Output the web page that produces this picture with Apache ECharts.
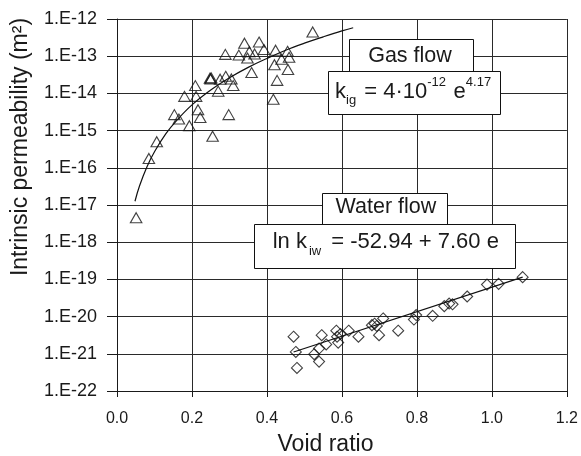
<!DOCTYPE html>
<html><head><meta charset="utf-8">
<script src="https://cdn.jsdelivr.net/npm/echarts@6/dist/echarts.min.js"></script>
<style>html,body{margin:0;padding:0;background:#fff}#c{width:581px;height:456px}</style>
</head><body><div id="c"></div>
<script>
// ---- data ----
const xTickLabels = ['0.0','0.2','0.4','0.6','0.8','1.0','1.2'];
const yTickLabels = ['1.E-12','1.E-13','1.E-14','1.E-15','1.E-16','1.E-17','1.E-18','1.E-19','1.E-20','1.E-21','1.E-22'];

// Gas flow measurements (void ratio, intrinsic permeability m2)
const gasVoid = [0.051,0.085,0.106,0.153,0.165,0.180,0.193,0.209,0.211,0.216,0.222,0.255,0.248,0.250,0.251,0.270,0.275,0.290,0.298,0.305,0.310,0.289,0.325,0.340,0.348,0.353,0.367,0.379,0.392,0.359,0.423,0.420,0.427,0.417,0.439,0.455,0.459,0.456,0.522];
const gasK = [4.57e-18,1.78e-16,5.01e-16,2.69e-15,2.04e-15,8.32e-15,1.35e-15,1.62e-14,8.32e-15,3.63e-15,2.24e-15,7.08e-16,2.57e-14,2.45e-14,2.63e-14,1.15e-14,2.40e-14,2.88e-14,2.69e-15,2.45e-14,1.62e-14,1.12e-13,1.07e-13,2.24e-13,8.91e-14,1.32e-13,1.15e-13,2.40e-13,1.51e-13,3.63e-14,1.45e-13,5.89e-14,2.24e-14,6.92e-15,8.32e-14,1.35e-13,9.33e-14,4.37e-14,4.47e-13];

// Water flow measurements
const waterVoid = [0.471,0.477,0.480,0.526,0.539,0.539,0.546,0.558,0.585,0.587,0.590,0.596,0.618,0.644,0.680,0.687,0.693,0.699,0.710,0.750,0.792,0.798,0.842,0.873,0.886,0.895,0.934,0.987,1.018,1.082];
const waterK = [2.88e-21,1.12e-21,4.17e-22,9.77e-22,6.17e-22,1.38e-21,3.16e-21,1.78e-21,4.17e-21,2.88e-21,2.00e-21,3.39e-21,4.17e-21,2.88e-21,5.89e-21,6.46e-21,5.62e-21,3.16e-21,8.91e-21,4.17e-21,8.32e-21,1.10e-20,1.05e-20,1.91e-20,2.24e-20,2.14e-20,3.47e-20,7.24e-20,7.59e-20,1.15e-19];

// Fitted curves, points
const gasFitVoid = [0.048,0.06,0.08,0.10,0.13,0.16,0.20,0.25,0.30,0.35,0.40,0.45,0.50,0.55,0.60,0.63];
const gasFitK = [1.26e-17,3.24e-17,1.07e-16,2.69e-16,8.13e-16,1.91e-15,4.90e-15,1.23e-14,2.63e-14,5.01e-14,8.71e-14,1.45e-13,2.24e-13,3.31e-13,4.79e-13,5.82e-13];
const waterFitVoid = [0.471,1.082];
const waterFitK = [1.12e-21,1.15e-19];

// ---- chart ----
// ECharts' number rounding cannot handle 1e-22 directly, so the log axis runs in
// units of 1e-22 m2 (axis bottom = 1, top = 1e10); labels show the real values.
const UNIT = 1e-22;
const FONT = '"Liberation Sans", Arial, Helvetica, sans-serif';
const INK = '#1a1a1a';
const pairs = (xs, ys) => xs.map((x, i) => [x, ys[i] / UNIT]);

const chart = echarts.init(document.getElementById('c'), null, {renderer: 'canvas'});
const hollow = {color: 'rgba(0,0,0,0)', borderColor: '#111', borderWidth: 1.1};

chart.setOption({
  animation: false,
  backgroundColor: '#fff',
  grid: {left: 117, right: 11, top: 19, bottom: 65, containLabel: false},
  xAxis: {
    type: 'value', min: 0, max: 1.2, interval: 0.2,
    axisLine: {show: true, onZero: false, lineStyle: {color: INK, width: 1}},
    axisTick: {show: true, length: 6, inside: false, lineStyle: {color: INK, width: 1}},
    axisLabel: {margin: 20, fontSize: 16, fontFamily: FONT, color: INK,
      formatter: v => xTickLabels[Math.round(v / 0.2)]},
    splitLine: {show: true, lineStyle: {color: '#2a2a2a', width: 1}}
  },
  yAxis: {
    type: 'log', logBase: 10, min: 1, max: 1e10, interval: 1,
    axisLine: {show: true, onZero: false, lineStyle: {color: INK, width: 1}},
    axisTick: {show: true, length: 10, inside: false, lineStyle: {color: INK, width: 1}},
    axisLabel: {margin: 20, fontSize: 18, fontFamily: FONT, color: INK,
      formatter: v => yTickLabels[Math.round(10 - Math.log10(v))]},
    splitLine: {show: true, lineStyle: {color: '#2a2a2a', width: 1}}
  },
  series: [
    {type: 'line', data: pairs(gasFitVoid, gasFitK), smooth: 0.4, symbol: 'none', silent: true,
      lineStyle: {color: '#111', width: 1.2}, z: 2},
    {type: 'line', data: pairs(waterFitVoid, waterFitK), symbol: 'none', silent: true,
      lineStyle: {color: '#111', width: 1.2}, z: 2},
    {type: 'scatter', data: pairs(gasVoid, gasK), symbol: 'triangle', symbolSize: [11.5, 10],
      itemStyle: hollow, z: 3},
    {type: 'scatter', data: pairs(waterVoid, waterK), symbol: 'diamond', symbolSize: [11, 11],
      itemStyle: hollow, z: 3}
  ],
  graphic: [
    {type: 'text', x: 20.8, y: 147, rotation: Math.PI / 2,
      style: {text: 'Intrinsic permeability (m²)', font: '23px ' + FONT, fill: INK, align: 'center', verticalAlign: 'middle'}},
    {type: 'text', x: 325.5, y: 445,
      style: {text: 'Void ratio', font: '23px ' + FONT, fill: INK, align: 'center', verticalAlign: 'middle'}},

    {type: 'rect', z: 10, shape: {x: 349.5, y: 39.5, width: 124, height: 32},
      style: {fill: '#fff', stroke: '#111', lineWidth: 1}},
    {type: 'text', z: 11, x: 410, y: 55.9,
      style: {text: 'Gas flow', font: '21.5px ' + FONT, fill: INK, align: 'center', verticalAlign: 'middle'}},
    {type: 'rect', z: 12, shape: {x: 328.5, y: 71.5, width: 172, height: 43},
      style: {fill: '#fff', stroke: '#111', lineWidth: 1}},
    {type: 'text', z: 13, x: 335, y: 76.4,
      style: {
        text: '{m|k}{b|ig}{m| = 4·10}{t|-12}{m| e}{t|4.17}',
        align: 'left', verticalAlign: 'top', fill: INK,
        rich: {
          m: {fontSize: 22, fontFamily: FONT, fill: INK, lineHeight: 31, verticalAlign: 'middle'},
          b: {fontSize: 13, fontFamily: FONT, fill: INK, lineHeight: 19, verticalAlign: 'bottom', padding: [0, 2, 0, 0]},
          t: {fontSize: 13, fontFamily: FONT, fill: INK, lineHeight: 14, verticalAlign: 'top', padding: [0, 1.5, 0, 0]}
        }
      }},

    {type: 'rect', z: 10, shape: {x: 322.5, y: 193.5, width: 125, height: 31},
      style: {fill: '#fff', stroke: '#111', lineWidth: 1}},
    {type: 'text', z: 11, x: 385.9, y: 207.5,
      style: {text: 'Water flow', font: '21.5px ' + FONT, fill: INK, align: 'center', verticalAlign: 'middle'}},
    {type: 'rect', z: 12, shape: {x: 254.5, y: 224.5, width: 261, height: 44},
      style: {fill: '#fff', stroke: '#111', lineWidth: 1}},
    {type: 'text', z: 13, x: 272.7, y: 226.9,
      style: {
        text: '{m|ln k}{b|iw}{m| = -52.94 + 7.60 e}',
        align: 'left', verticalAlign: 'top', fill: INK,
        rich: {
          m: {fontSize: 22, fontFamily: FONT, fill: INK, lineHeight: 31, verticalAlign: 'middle'},
          b: {fontSize: 13, fontFamily: FONT, fill: INK, lineHeight: 15, verticalAlign: 'bottom', padding: [0, 4, 0, 2]}
        }
      }}
  ]
});
</script>
</body></html>
